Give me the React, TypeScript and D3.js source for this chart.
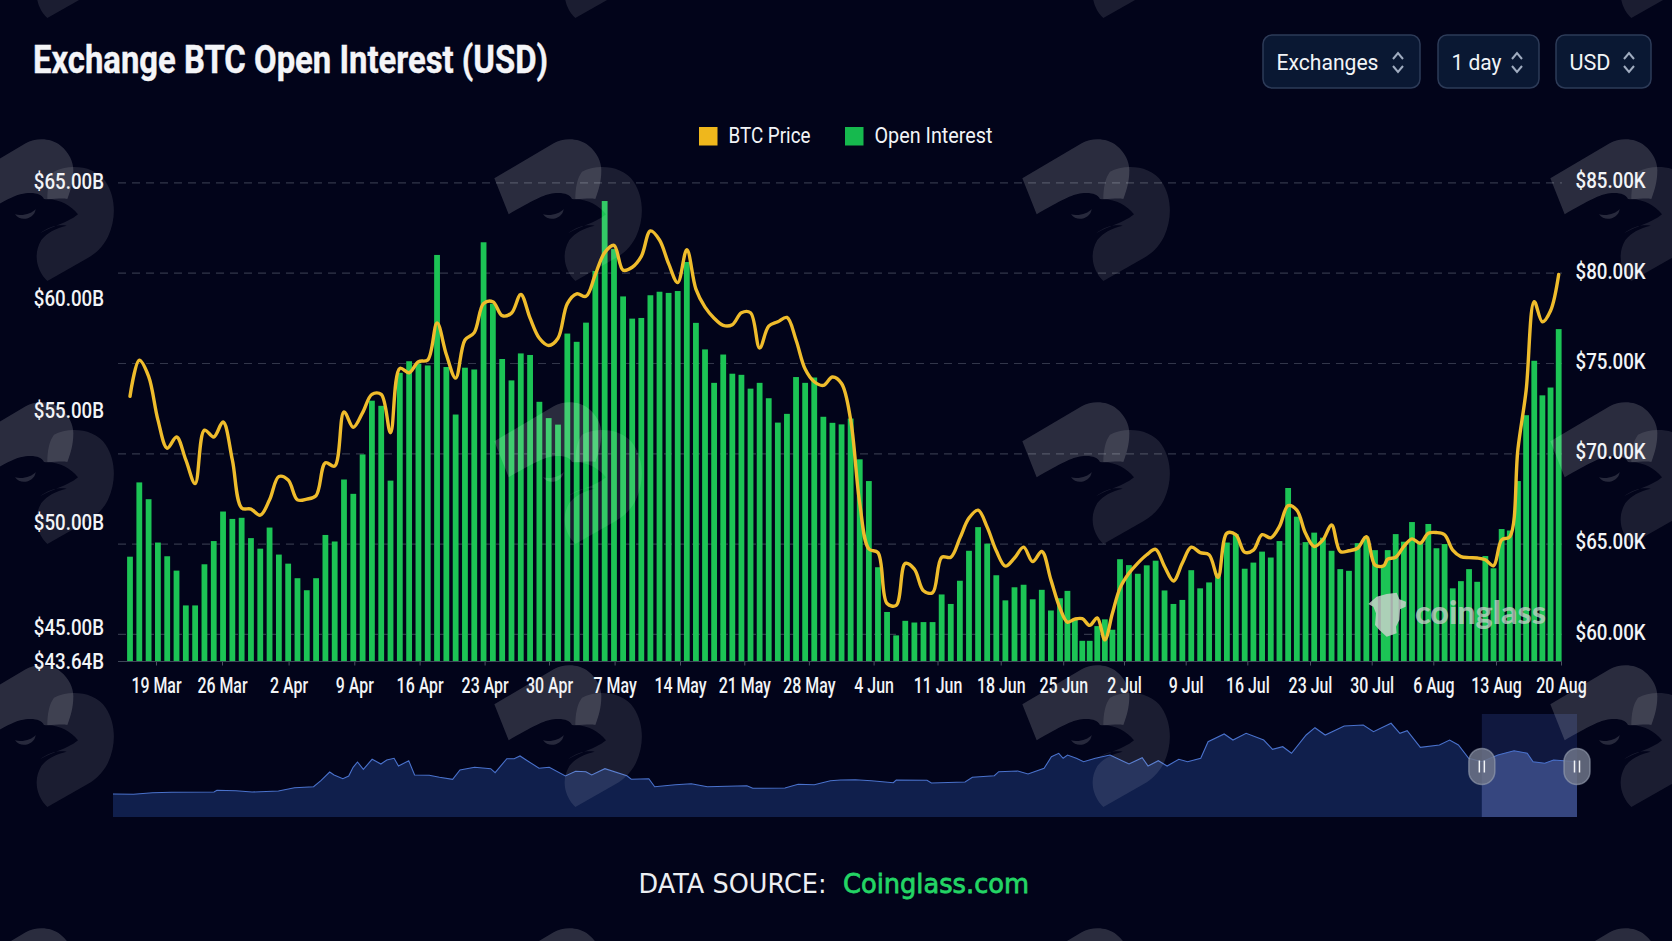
import { useEffect, useRef } from 'react';
import * as d3 from 'd3';

// Open interest per bar ($B), read left to right
const openInterest = [
    48.38, 51.79, 51.04, 49.05, 48.4, 47.72, 46.07, 46.07, 48.02, 49.12, 50.49, 50.16, 50.21, 49.26, 48.76, 49.76,
    48.48, 48.05, 47.36, 46.79, 47.36, 49.41, 49.1, 51.92, 51.28, 53.04, 55.44, 55.21, 51.87, 56.69, 57.21, 57.1,
    57.02, 61.88, 56.95, 54.82, 56.92, 56.84, 62.42, 59.79, 57.31, 56.35, 57.56, 57.49, 55.39, 54.66, 54.37, 58.45,
    58.08, 58.94, 61.2, 64.18, 62.13, 60.11, 59.12, 59.15, 60.16, 60.31, 60.26, 60.34, 61.58, 58.93, 57.74, 56.24,
    57.51, 56.65, 56.6, 55.98, 56.24, 55.55, 54.46, 54.85, 56.5, 56.24, 56.48, 54.72, 54.45, 54.38, 54.64, 52.82,
    51.85, 47.88, 45.76, 44.7, 45.34, 45.26, 45.28, 45.28, 46.59, 46.14, 47.24, 48.66, 49.78, 49.0, 47.5, 46.31,
    46.93, 47.05, 46.36, 46.81, 45.83, 46.41, 46.76, 45.38, 44.48, 44.48, 45.09, 45.41, 44.93, 48.26, 47.98, 47.57,
    47.97, 48.19, 46.78, 46.14, 46.33, 47.74, 46.88, 47.16, 47.59, 49.05, 49.45, 47.81, 48.1, 48.62, 48.34, 49.12,
    51.54, 50.26, 49.07, 49.52, 49.28, 48.66, 47.79, 47.71, 49.02, 49.33, 48.69, 47.91, 48.69, 49.45, 49.09, 50.02,
    49.09, 49.93, 48.78, 48.98, 46.88, 47.22, 47.79, 47.19, 48.41, 47.83, 49.69, 49.62, 51.85, 54.79, 57.23, 55.68,
    56.03, 58.65,
];

// BTC price per bar ($K)
const btcPrice = [
    73.18, 75.18, 74.29, 71.88, 70.31, 70.93, 69.66, 68.35, 71.31, 70.93, 71.76, 69.66, 67.0, 66.94, 66.6, 67.45,
    68.74, 68.55, 67.45, 67.49, 67.69, 69.5, 69.32, 72.32, 71.47, 72.28, 73.29, 73.29, 71.17, 74.73, 74.49, 75.1,
    75.2, 77.25, 75.5, 74.19, 76.3, 76.71, 78.32, 78.42, 77.65, 77.79, 78.82, 77.51, 76.4, 76.0, 76.4, 78.32,
    78.86, 78.72, 79.93, 81.14, 81.54, 80.17, 80.33, 80.93, 82.34, 81.84, 80.53, 79.48, 81.3, 79.12, 78.12, 77.51,
    77.11, 77.15, 77.81, 77.81, 75.86, 77.07, 77.31, 77.55, 76.3, 74.69, 73.99, 73.79, 74.25, 73.89, 71.88, 67.25,
    64.73, 64.53, 61.71, 61.61, 63.93, 63.62, 62.42, 62.31, 64.27, 64.27, 65.33, 66.44, 66.88, 65.94, 64.63, 63.78,
    64.23, 64.83, 64.03, 64.59, 63.02, 61.45, 60.68, 60.85, 60.87, 60.5, 60.91, 59.7, 61.17, 62.56, 63.38, 63.95,
    64.41, 64.71, 63.76, 62.96, 63.95, 64.83, 64.53, 64.41, 63.16, 65.6, 65.52, 64.55, 64.67, 65.52, 65.35, 65.98,
    67.13, 66.88, 65.6, 64.87, 65.23, 66.06, 64.59, 64.63, 64.77, 65.41, 63.84, 63.8, 64.17, 64.27, 64.87, 65.29,
    65.05, 65.6, 65.64, 65.52, 64.67, 64.31, 64.25, 64.23, 64.13, 63.8, 65.23, 65.41, 70.27, 73.49, 78.42, 77.31,
    77.92, 79.93,
];

// Full history strip under the chart: position (% of strip) and level
const overviewPos = [
    0, 1.4, 2.7, 4, 6.9, 7.1, 8.4, 9.5, 11.3, 12.4, 13.7, 14.2, 14.8, 15.1, 15.7, 16.1, 16.4, 16.7, 17.1, 17.7, 18.3,
    18.7, 19.2, 19.5, 20.2, 20.6, 21.6, 22.3, 23.2, 23.7, 24.7, 25.8, 26.1, 26.9, 27.4, 27.8, 28.3, 29.1, 29.8, 30.9,
    31.6, 32.3, 32.7, 33.6, 35.1, 35.4, 36.6, 37, 38.4, 39.5, 40.6, 43.3, 43.7, 45.9, 46.8, 47.9, 49, 49.7, 50.7, 51.8,
    53.3, 53.5, 55.6, 55.9, 58.2, 58.7, 60.2, 60.5, 61.8, 62.5, 63.6, 64.1, 64.6, 64.9, 65.2, 65.8, 66.3, 67.1, 68.1,
    69.4, 70.3, 70.7, 71.4, 72, 72.8, 73.4, 74.3, 74.8, 75.9, 76.5, 77.4, 78.6, 79.2, 79.9, 80.5, 81.5, 82.1, 82.8,
    84.1, 85.4, 86.1, 87.3, 87.9, 88.4, 89.3, 90.6, 91.3, 91.9, 92.6, 93.5, 94.6, 95.7, 96.6, 97, 97.8, 98.4, 100,
];
const overviewLevel = [
    23, 22.7, 24.3, 24.7, 25, 26.7, 26.3, 25, 26, 29.3, 30.3, 36.3, 45, 42, 38.3, 41, 49.7, 55, 47.7, 57.7, 53,
    57, 58.7, 51, 56.3, 42, 41.7, 39.7, 37.7, 47, 49.7, 48.3, 44.3, 58.3, 58.3, 61, 56.3, 48.7, 49.7, 41,
    45.7, 45.3, 42, 48.3, 41.3, 37.7, 38.3, 30.3, 32.3, 33.3, 30.3, 31.3, 28.7, 29, 32.7, 32.3, 36.3, 37, 37.3, 36.3,
    34.3, 37, 36.7, 34, 35, 39.7, 41.3, 45.3, 46, 43, 48.7, 60.3, 63.7, 58.7, 62, 58.7, 55.3, 58.7, 62,
    53, 59.3, 51, 56.3, 51, 57.7, 55.3, 58.7, 75.3, 83, 77, 83.7, 77, 67.7, 70.3, 63.7, 82, 89.3, 82,
    91, 92, 85.3, 93.7, 83.7, 86.3, 69.7, 72, 77, 72, 58.7, 55.3, 62, 66.3, 63.7, 55.3, 53.7, 57, 55.3,
];

const tickDates = [
    '2024-03-19', '2024-03-26', '2024-04-02', '2024-04-09', '2024-04-16', '2024-04-23', '2024-04-30', '2024-05-07',
    '2024-05-14', '2024-05-21', '2024-05-28', '2024-06-04', '2024-06-11', '2024-06-18', '2024-06-25', '2024-07-02',
    '2024-07-09', '2024-07-16', '2024-07-23', '2024-07-30', '2024-08-06', '2024-08-13', '2024-08-20',
].map(d => new Date(d));
const leftTicks = [43.64, 45, 50, 55, 60, 65];
const rightTicks = [60, 65, 70, 75, 80, 85];
const selection = [93.5, 100];

// The picture's time axis is not evenly spaced, so the scales are calibrated in several stops
const tickPx = [
    156, 222, 288.6, 354.3, 419.6, 484.6, 549, 614.6, 680, 744.3, 808.9, 873.6, 937.5, 1000.7, 1063.2, 1124, 1185.7,
    1247.3, 1310, 1371.7, 1433.3, 1496, 1561,
];
const barStops = [0, 46, 52, 101, 105, 109, 123, 139, 140, 141, 161];
const barStopPx = [130, 558, 614, 1060, 1089.7, 1120, 1244.7, 1383.7, 1387.7, 1395.7, 1558.7];
const leftPx = [661.5, 628, 522.5, 410.5, 299, 181.8];

const W = 1672;
const H = 941;
const BG = '#02041a';
const GREEN = '#16b94e';
const BAR_GREEN = '#1cc455';
const GOLD = '#efbc2c';
const TEXT = '#f2f4f7';
const FONT = 'Roboto, sans-serif';

// Reference type is narrower than Roboto: squeeze each label to a share of its natural width
const squeeze = (sel: d3.Selection<any, any, any, any>, k: number) => {
    sel.each(function () {
        const t = this as SVGTextElement;
        t.setAttribute('textLength', String(t.getComputedTextLength() * k));
        t.setAttribute('lengthAdjust', 'spacingAndGlyphs');
    });
};

const App = () => {
    const svgRef = useRef<SVGSVGElement>(null);

    useEffect(() => {
        d3.select(svgRef.current).selectAll('*').remove();
        const svg = d3.select(svgRef.current);

        const x = d3.scaleLinear().domain(barStops).range(barStopPx);
        const xTime = d3.scaleUtc().domain(tickDates).range(tickPx);
        const yOI = d3.scaleLinear().domain(leftTicks).range(leftPx);
        const yPrice = d3.scaleLinear().domain([58.5, 85]).range([661.5, 182.9]);
        const xOverview = d3.scaleLinear().domain([0, 100]).range([113, 1577]);
        const yOverview = d3.scaleLinear().domain([0, 103]).range([817, 714]);

        svg.append('rect').attr('width', W).attr('height', H).attr('fill', BG);

        // Grid follows the right axis
        svg.append('g')
            .selectAll('line')
            .data(rightTicks)
            .join('line')
            .attr('x1', 118)
            .attr('x2', 1562)
            .attr('y1', d => yPrice(d))
            .attr('y2', d => yPrice(d))
            .attr('stroke', '#32364a')
            .attr('stroke-width', 1.2)
            .attr('stroke-dasharray', '8 6');

        // Bars
        svg.append('g')
            .selectAll('rect')
            .data(openInterest)
            .join('rect')
            .attr('x', (_, i) => x(i) - 2.9)
            .attr('y', d => yOI(d))
            .attr('width', 5.8)
            .attr('height', d => yOI(43.64) - yOI(d))
            .attr('fill', BAR_GREEN);

        // Overview strip
        const overview = overviewPos.map((p, i) => ({ p, v: overviewLevel[i] }));
        const area = d3
            .area<{ p: number; v: number }>()
            .x(d => xOverview(d.p))
            .y0(yOverview(0))
            .y1(d => yOverview(d.v));
        const overviewLine = d3
            .line<{ p: number; v: number }>()
            .x(d => xOverview(d.p))
            .y(d => yOverview(d.v));
        svg.append('path').attr('d', area(overview)).attr('fill', '#101f4c');
        svg.append('rect')
            .attr('x', xOverview(selection[0]))
            .attr('y', yOverview(103))
            .attr('width', xOverview(selection[1]) - xOverview(selection[0]))
            .attr('height', yOverview(0) - yOverview(103))
            .attr('fill', '#4a6ad8')
            .attr('opacity', 0.2);
        svg.append('path')
            .attr('d', area(overview.filter(d => d.p >= selection[0])))
            .attr('fill', '#36467f');
        svg.append('path')
            .attr('d', overviewLine(overview))
            .attr('fill', 'none')
            .attr('stroke', '#4a72cc')
            .attr('stroke-width', 1.1);

        // Watermark tiles sit above the bars
        const tiles = d3.cross([-46, 482, 1010, 1538], [-138, 125, 388, 651, 914]);
        const tile = svg
            .append('g')
            .selectAll('g')
            .data(tiles)
            .join('g')
            .attr('transform', d => `translate(${d[0]},${d[1]}) scale(${1 / 3})`);
        tile.append('path')
            .attr('d', 'M37,160 L215,55 C245,38 290,38 320,62 C345,82 358,110 358,135 C358,170 350,195 340,222 C320,218 290,225 270,222 C262,208 245,202 215,205 C185,208 150,228 80,268 Z')
            .attr('fill', '#fff')
            .attr('opacity', 0.16);
        tile.append('path')
            .attr('d', 'M300,140 C340,118 420,118 455,170 C485,215 488,280 462,335 C445,368 425,385 400,400 L280,468 C250,440 235,390 262,345 C280,322 305,310 338,302 C310,298 285,305 258,325 C290,305 340,295 372,268 C350,240 320,225 280,222 C280,190 285,160 300,140 Z')
            .attr('fill', '#fff')
            .attr('opacity', 0.1);
        tile.append('path')
            .attr('d', 'M183,268 C205,275 235,265 245,252 C242,282 200,292 183,268 Z')
            .attr('fill', '#fff')
            .attr('opacity', 0.15);

        // Coinglass mark
        svg.append('path')
            .attr('transform', `translate(1240,470) scale(${1 / 3})`)
            .attr('d', 'M410,380 L440,372 L470,368 L478,388 L498,395 L497,410 L480,418 L478,450 L468,470 L470,490 L440,500 L418,480 L405,465 L408,430 L400,410 L385,402 Z')
            .attr('fill', '#ccd3cd')
            .attr('opacity', 0.82);
        svg.append('text')
            .attr('x', 1415)
            .attr('y', 624)
            .attr('font-family', 'Lato, sans-serif')
            .attr('font-weight', 900)
            .attr('font-size', 33)
            .attr('fill', '#ccd3cd')
            .attr('opacity', 0.72)
            .attr('textLength', 131)
            .attr('lengthAdjust', 'spacingAndGlyphs')
            .text('coinglass');

        // Price line
        svg.append('path')
            .attr(
                'd',
                d3
                    .line<number>()
                    .x((_, i) => x(i))
                    .y(d => yPrice(d))
                    .curve(d3.curveCatmullRom.alpha(0.5))(btcPrice)
            )
            .attr('fill', 'none')
            .attr('stroke', GOLD)
            .attr('stroke-width', 3.4)
            .attr('stroke-linecap', 'round');

        // Overview handles
        const handles = svg
            .append('g')
            .selectAll('g')
            .data(selection)
            .join('g')
            .attr('transform', d => `translate(${xOverview(d)},766.5)`);
        handles
            .append('rect')
            .attr('x', -13)
            .attr('y', -18)
            .attr('width', 26)
            .attr('height', 36)
            .attr('rx', 13)
            .attr('fill', '#6d7488')
            .attr('fill-opacity', 0.85)
            .attr('stroke', '#9aa1b2')
            .attr('stroke-opacity', 0.6)
            .attr('stroke-width', 1.5);
        handles
            .selectAll('line')
            .data([-2.5, 2.5])
            .join('line')
            .attr('x1', d => d)
            .attr('x2', d => d)
            .attr('y1', -6)
            .attr('y2', 6)
            .attr('stroke', '#f1f3f6')
            .attr('stroke-width', 1.5);

        // Axes
        const styleAxis = (g: d3.Selection<SVGGElement, unknown, null, undefined>) => {
            g.select('.domain').remove();
            g.selectAll('text')
                .attr('fill', TEXT)
                .attr('font-family', FONT)
                .attr('font-weight', 500)
                .attr('font-size', 21.5);
        };
        const bottom = svg
            .append('g')
            .attr('transform', 'translate(0,661.5)')
            .call(
                d3
                    .axisBottom<Date>(xTime)
                    .tickValues(tickDates)
                    .tickFormat(d3.utcFormat('%-d %b'))
                    .tickSize(4)
                    .tickPadding(12)
            );
        styleAxis(bottom as any);
        bottom.selectAll('line').attr('stroke', '#4a5060');
        squeeze(bottom.selectAll('text'), 0.74);
        svg.append('line')
            .attr('x1', 118)
            .attr('x2', 1562)
            .attr('y1', 661.5)
            .attr('y2', 661.5)
            .attr('stroke', '#3f4658');

        const left = svg
            .append('g')
            .attr('transform', 'translate(104,0)')
            .call(
                d3
                    .axisLeft(yOI)
                    .tickValues(leftTicks)
                    .tickFormat(d => `$${(+d).toFixed(2)}B`)
                    .tickSize(0)
                    .tickPadding(0)
            );
        styleAxis(left as any);
        squeeze(left.selectAll('text'), 0.87);

        const right = svg
            .append('g')
            .attr('transform', 'translate(1575.5,-2)')
            .call(
                d3
                    .axisRight(yPrice)
                    .tickValues(rightTicks)
                    .tickFormat(d => `$${(+d).toFixed(2)}K`)
                    .tickSize(0)
                    .tickPadding(0)
            );
        styleAxis(right as any);
        squeeze(right.selectAll('text'), 0.87);

        // Title
        svg.append('text')
            .attr('x', 33)
            .attr('y', 73)
            .attr('font-family', FONT)
            .attr('font-weight', 700)
            .attr('font-size', 38)
            .attr('fill', '#f4f5f8')
            .attr('stroke', '#f4f5f8')
            .attr('stroke-width', 0.4)
            .attr('textLength', 515)
            .attr('lengthAdjust', 'spacingAndGlyphs')
            .text('Exchange BTC Open Interest (USD)');

        // Selectors
        const selectors = [
            { label: 'Exchanges', x: 1263, w: 157, tw: 102 },
            { label: '1 day', x: 1438, w: 101, tw: 50 },
            { label: 'USD', x: 1556, w: 95, tw: 41 },
        ];
        const sel = svg
            .append('g')
            .selectAll('g')
            .data(selectors)
            .join('g')
            .attr('transform', d => `translate(${d.x},35)`);
        sel.append('rect')
            .attr('width', d => d.w)
            .attr('height', 53)
            .attr('rx', 9)
            .attr('fill', '#0a1833')
            .attr('stroke', '#2d3b58')
            .attr('stroke-width', 1.5);
        sel.append('text')
            .attr('x', 13.5)
            .attr('y', 35)
            .attr('font-family', FONT)
            .attr('font-size', 22.5)
            .attr('fill', TEXT)
            .attr('textLength', d => d.tw)
            .attr('lengthAdjust', 'spacingAndGlyphs')
            .text(d => d.label);
        sel.append('path')
            .attr('d', d => {
                const c = d.w - 22;
                return `M${c - 5},24 L${c},18 L${c + 5},24 M${c - 5},31 L${c},37 L${c + 5},31`;
            })
            .attr('fill', 'none')
            .attr('stroke', '#a0acc0')
            .attr('stroke-width', 2);

        // Legend
        const legend = [
            { label: 'BTC Price', color: '#efb71c', x: 699, tw: 82 },
            { label: 'Open Interest', color: GREEN, x: 845, tw: 118 },
        ];
        const leg = svg
            .append('g')
            .selectAll('g')
            .data(legend)
            .join('g')
            .attr('transform', d => `translate(${d.x},127)`);
        leg.append('rect')
            .attr('width', 18.5)
            .attr('height', 18.5)
            .attr('fill', d => d.color);
        leg.append('text')
            .attr('x', 29.5)
            .attr('y', 16)
            .attr('font-family', FONT)
            .attr('font-size', 22)
            .attr('fill', TEXT)
            .attr('textLength', d => d.tw)
            .attr('lengthAdjust', 'spacingAndGlyphs')
            .text(d => d.label);

        // Source line
        svg.append('text')
            .attr('x', 638.5)
            .attr('y', 892.5)
            .attr('font-family', 'DejaVu Sans, sans-serif')
            .attr('font-size', 26.5)
            .attr('fill', '#eceef2')
            .attr('textLength', 188)
            .attr('lengthAdjust', 'spacingAndGlyphs')
            .text('DATA SOURCE:');
        svg.append('text')
            .attr('x', 843)
            .attr('y', 892.5)
            .attr('font-family', 'DejaVu Sans, sans-serif')
            .attr('font-size', 26.5)
            .attr('fill', '#23d565')
            .attr('stroke', '#23d565')
            .attr('stroke-width', 0.8)
            .attr('textLength', 186)
            .attr('lengthAdjust', 'spacingAndGlyphs')
            .text('Coinglass.com');
    }, []);

    return (
        <svg
            ref={svgRef}
            width={W}
            height={H}
            style={{ position: 'absolute', left: 0, top: 0, display: 'block' }}
        ></svg>
    );
};

export default App;
